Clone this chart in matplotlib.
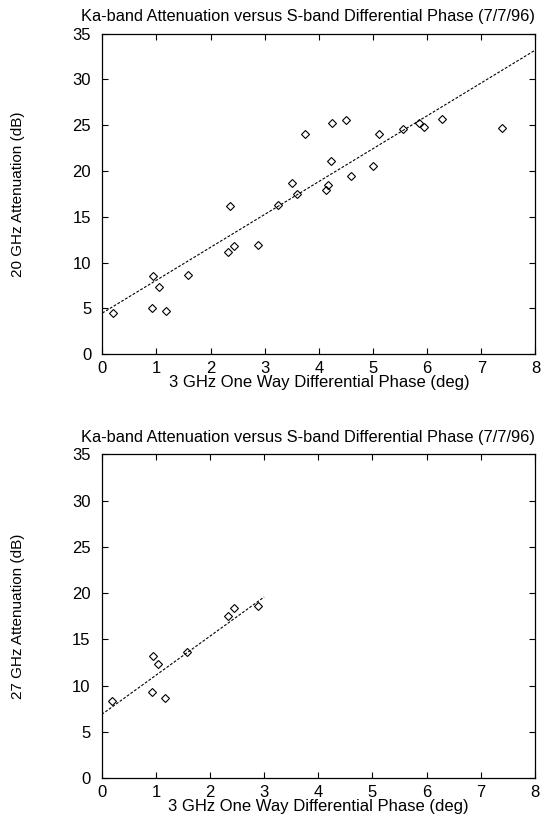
import numpy as np
import matplotlib
matplotlib.use('Agg')
import matplotlib.pyplot as plt

plt.rcParams['font.family'] = ['Liberation Sans', 'DejaVu Sans']

title = 'Ka-band Attenuation versus S-band Differential Phase (7/7/96)'
xlabel = '3 GHz One Way Differential Phase (deg)'

# 20 GHz data (top panel)
phase_20 = [0.19, 0.91, 0.94, 1.04, 1.17, 1.58, 2.32, 2.36, 2.43, 2.88,
            3.25, 3.51, 3.60, 3.75, 4.14, 4.17, 4.23, 4.25, 4.50, 4.59,
            5.00, 5.11, 5.55, 5.85, 5.94, 6.27, 7.38]
att_20 = [4.5, 5.1, 8.5, 7.4, 4.7, 8.7, 11.2, 16.2, 11.8, 11.9,
          16.3, 18.7, 17.5, 24.1, 17.9, 18.5, 21.1, 25.2, 25.6, 19.5,
          20.6, 24.1, 24.6, 25.3, 24.8, 25.7, 24.7]
fit_20 = (3.59, 4.5)      # slope, intercept
fit_20_range = (0, 8)

# 27 GHz data (bottom panel)
phase_27 = [0.19, 0.92, 0.95, 1.04, 1.17, 1.58, 2.33, 2.44, 2.89]
att_27 = [8.4, 9.3, 13.2, 12.4, 8.7, 13.6, 17.5, 18.4, 18.6]
fit_27 = (4.23, 6.9)
fit_27_range = (0, 3)

fig = plt.figure(figsize=(5.56, 8.22), dpi=100)
ax1 = fig.add_axes([0.184, 0.569, 0.779, 0.390])
ax2 = fig.add_axes([0.183, 0.0532, 0.779, 0.394])

panels = [(ax1, phase_20, att_20, fit_20, fit_20_range, '20 GHz Attenuation (dB)'),
          (ax2, phase_27, att_27, fit_27, fit_27_range, '27 GHz Attenuation (dB)')]

for ax, x, y, fit, rng, ylab in panels:
    xf = np.array(rng)
    ax.plot(xf, fit[0] * xf + fit[1], color='black', lw=0.8,
            linestyle=(0, (2.5, 1.5)))
    ax.plot(x, y, linestyle='none', marker='D', markersize=4,
            markerfacecolor='none', markeredgecolor='black', markeredgewidth=0.8)
    ax.set_xlim(0, 8)
    ax.set_ylim(0, 35)
    ax.set_xticks(range(0, 9))
    ax.set_yticks(range(0, 36, 5))
    ax.tick_params(direction='in', top=True, right=True, length=4, width=0.8,
                   labelsize=12)
    ax.tick_params(axis='y', pad=8)
    ax.tick_params(axis='x', pad=5)
    for s in ax.spines.values():
        s.set_linewidth(0.9)
    ax.set_title(title, fontsize=11.8, x=0.475, pad=9)
    ax.set_xlabel(xlabel, fontsize=12, labelpad=-1)
    ax.set_ylabel(ylab, fontsize=11, labelpad=34)

fig.savefig('out.png', dpi=100)
